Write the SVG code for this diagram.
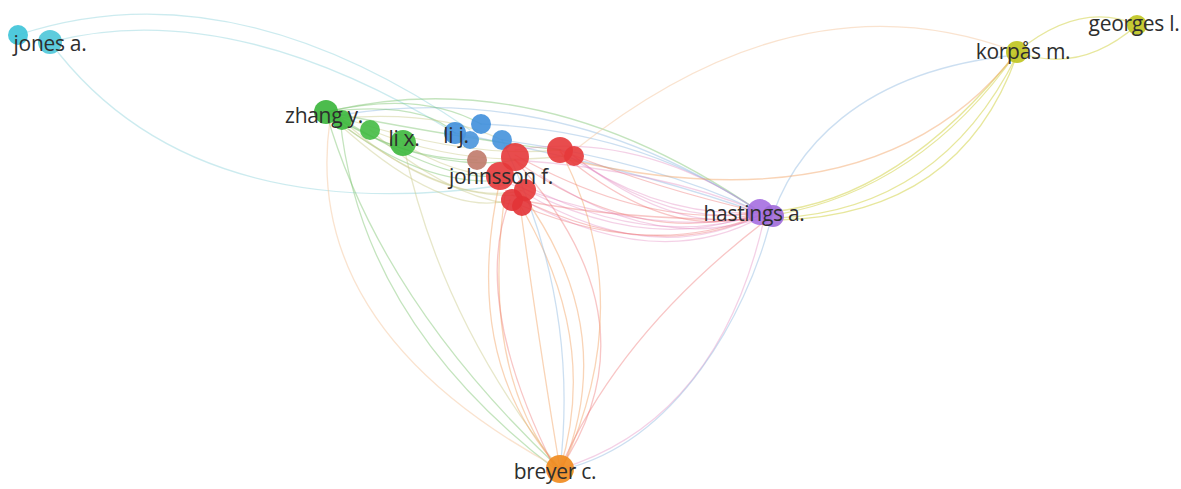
<svg xmlns="http://www.w3.org/2000/svg" width="1181" height="489" viewBox="0 0 1181 489">
<style>
.e{fill:none;stroke-width:1.3;stroke-linecap:round}
.cy{stroke:#8fd3dc;opacity:.45}
.gr{stroke:#7cc46e;opacity:.45}
.gy{stroke:#c9c98a;opacity:.45}
.bl{stroke:#8db8e0;opacity:.45}
.rd{stroke:#ee7070;opacity:.4}
.pk{stroke:#e07bb8;opacity:.35}
.or{stroke:#f2a060;opacity:.45}
.ye{stroke:#d3d44c;opacity:.55}
.lo{stroke:#f5c8a0;opacity:.5}
.n{opacity:.9}
.t{font-family:"Open Sans","Liberation Sans",sans-serif;font-size:21px;fill:#2e2e2e;text-anchor:middle;letter-spacing:-0.3px}
</style>
<rect width="1181" height="489" fill="#ffffff"/>
<g id="connectors">
<path class="e cy" d="M18,35 Q230,-35 470,130"/>
<path class="e cy" d="M50,42 Q230,-5 455,133"/>
<path class="e cy" d="M50,42 Q190,230 505,185"/>
<path class="e gr" d="M326,112 Q540,60 760,212"/>
<path class="e bl" d="M340,115 Q560,80 760,212"/>
<path class="e bl" d="M481,124 Q640,130 760,212"/>
<path class="e bl" d="M502,140 Q650,160 760,212"/>
<path class="e bl" d="M455,133 Q640,170 765,215"/>
<path class="e gr" d="M326,112 Q420,190 510,180"/>
<path class="e gr" d="M326,112 Q430,175 515,160"/>
<path class="e gy" d="M340,118 Q430,200 520,195"/>
<path class="e gy" d="M370,130 Q450,200 520,205"/>
<path class="e gy" d="M326,112 Q450,210 523,190"/>
<path class="e gy" d="M326,112 Q440,220 510,200"/>
<path class="e gr" d="M340,118 Q450,185 500,175"/>
<path class="e gy" d="M326,112 Q460,160 560,150"/>
<path class="e gr" d="M326,112 Q470,140 560,150"/>
<path class="e gy" d="M370,130 Q470,170 572,155"/>
<path class="e gr" d="M326,112 Q420,100 455,133"/>
<path class="e gr" d="M326,112 Q420,90 481,124"/>
<path class="e gy" d="M340,118 Q440,110 502,140"/>
<path class="e gy" d="M403,143 Q460,180 515,175"/>
<path class="e gr" d="M326,112 Q400,160 477,160"/>
<path class="e gr" d="M326,112 Q380,300 560,469"/>
<path class="e gr" d="M340,118 Q360,320 555,469"/>
<path class="e gy" d="M403,143 Q440,320 560,469"/>
<path class="e lo" d="M560,469 Q300,330 330,120"/>
<path class="e rd" d="M515,160 Q640,250 760,212"/>
<path class="e pk" d="M500,175 Q640,260 760,212"/>
<path class="e pk" d="M520,190 Q650,270 760,215"/>
<path class="e pk" d="M523,200 Q660,275 765,215"/>
<path class="e rd" d="M515,155 Q650,230 760,212"/>
<path class="e pk" d="M560,150 Q660,220 760,212"/>
<path class="e pk" d="M572,155 Q670,230 765,212"/>
<path class="e rd" d="M560,150 Q660,190 760,212"/>
<path class="e pk" d="M515,160 Q660,170 760,212"/>
<path class="e pk" d="M500,180 Q650,240 770,215"/>
<path class="e rd" d="M520,205 Q650,260 760,215"/>
<path class="e pk" d="M515,150 Q640,130 760,212"/>
<path class="e rd" d="M520,200 Q620,220 760,220"/>
<path class="e pk" d="M525,185 Q650,250 762,214"/>
<path class="e rd" d="M512,195 Q650,265 758,216"/>
<path class="e pk" d="M574,156 Q680,240 768,214"/>
<path class="e rd" d="M560,152 Q670,245 760,214"/>
<path class="e pk" d="M540,175 Q660,255 766,216"/>
<path class="e or" d="M500,180 Q460,360 560,469"/>
<path class="e or" d="M505,195 Q480,370 558,469"/>
<path class="e or" d="M520,205 Q600,340 560,469"/>
<path class="e or" d="M523,195 Q620,330 562,469"/>
<path class="e rd" d="M515,160 Q660,320 560,469"/>
<path class="e or" d="M520,205 Q540,350 560,469"/>
<path class="e rd" d="M510,200 Q470,300 555,469"/>
<path class="e or" d="M560,150 Q640,300 562,469"/>
<path class="e bl" d="M502,140 Q580,300 560,469"/>
<path class="e rd" d="M773,215 Q620,330 560,469"/>
<path class="e pk" d="M765,215 Q720,420 560,469"/>
<path class="e bl" d="M1017,55 C860,70 790,150 768,230 S680,440 565,469"/>
<path class="e ye" d="M1017,52 Q900,200 770,212"/>
<path class="e ye" d="M1017,52 Q920,190 775,215"/>
<path class="e ye" d="M1017,55 Q940,210 778,218"/>
<path class="e ye" d="M1017,55 Q960,215 780,220"/>
<path class="e or" d="M1017,52 Q880,230 570,160"/>
<path class="e lo" d="M1017,52 Q800,-30 575,150"/>
<path class="e ye" d="M1017,52 Q1080,0 1137,25"/>
<path class="e ye" d="M1017,52 Q1080,75 1137,25"/>
</g>
<g id="jones-a">
<circle class="n" cx="18" cy="35" r="10" fill="#3cc3d8"/>
<circle class="n" cx="50" cy="42" r="12" fill="#4cc6d9"/>
<text class="t" x="50" y="51">jones a.</text>
</g>
<g id="zhang-y">
<circle class="n" cx="326" cy="112" r="12" fill="#38b53a"/>
<circle class="n" cx="342" cy="120" r="10" fill="#3cb83c"/>
<text class="t" x="324" y="123">zhang y.</text>
</g>
<g id="li-x">
<circle class="n" cx="370" cy="130" r="10" fill="#44bb44"/>
<circle class="n" cx="403" cy="143" r="13" fill="#3db83d"/>
<text class="t" x="404" y="146">li x.</text>
</g>
<g id="li-j">
<circle class="n" cx="455" cy="133" r="11" fill="#3f8fdc"/>
<circle class="n" cx="470" cy="140" r="9" fill="#4a95dc"/>
<circle class="n" cx="481" cy="124" r="10" fill="#3f8fdc"/>
<circle class="n" cx="502" cy="140" r="10" fill="#4592dc"/>
<text class="t" x="456" y="143">li j.</text>
</g>
<g id="brown-node">
<circle class="n" cx="477" cy="160" r="10" fill="#c07a6a"/>
</g>
<g id="johnsson-f">
<circle class="n" cx="515" cy="157" r="14" fill="#e6383a"/>
<circle class="n" cx="500" cy="176" r="14" fill="#e6383a"/>
<circle class="n" cx="525" cy="190" r="11" fill="#e6383a"/>
<circle class="n" cx="512" cy="200" r="11" fill="#e23336"/>
<circle class="n" cx="522" cy="206" r="10" fill="#e23336"/>
<circle class="n" cx="560" cy="150" r="13" fill="#e6383a"/>
<circle class="n" cx="574" cy="156" r="10" fill="#e6383a"/>
<text class="t" x="501" y="184">johnsson f.</text>
</g>
<g id="hastings-a">
<circle class="n" cx="760" cy="212" r="13" fill="#a56ee0"/>
<circle class="n" cx="773" cy="216" r="11" fill="#a06ad9"/>
<text class="t" x="754" y="221">hastings a.</text>
</g>
<g id="korpas-m">
<circle class="n" cx="1017" cy="52" r="11" fill="#bfc41e"/>
<text class="t" x="1023" y="59">korpås m.</text>
</g>
<g id="georges-l">
<circle class="n" cx="1137" cy="25" r="10" fill="#bfc41e"/>
<text class="t" x="1134" y="31">georges l.</text>
</g>
<g id="breyer-c">
<circle class="n" cx="560" cy="469" r="14" fill="#f08a1c"/>
<text class="t" x="555" y="479">breyer c.</text>
</g>
</svg>
